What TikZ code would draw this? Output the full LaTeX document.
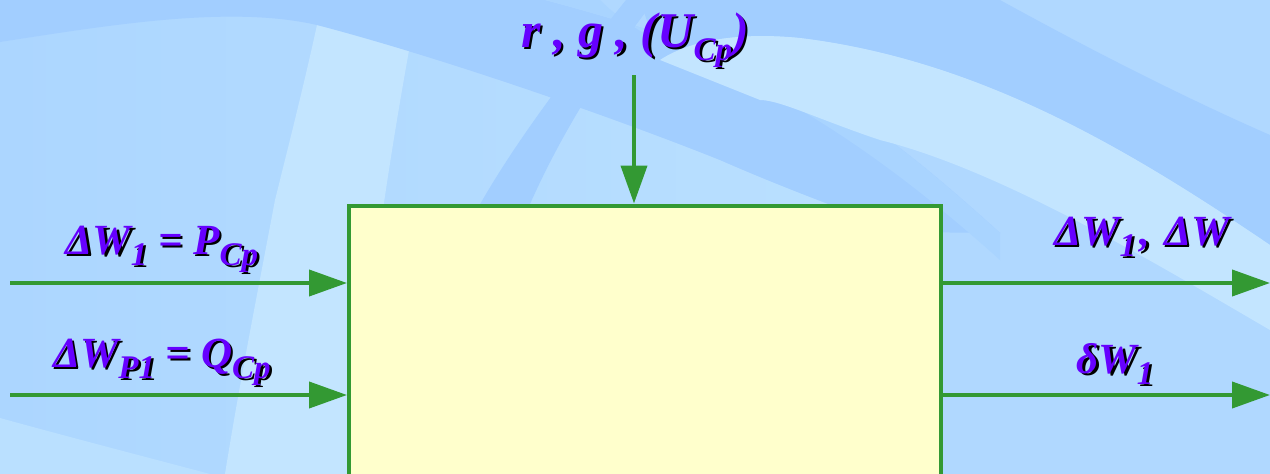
\documentclass[tikz,border=0pt]{standalone}
\usepackage{fontspec}
\setmainfont{Liberation Serif}
\usetikzlibrary{arrows.meta,calc}
\definecolor{bgbase}{HTML}{B0D8FF}
\definecolor{bgdark}{HTML}{A2CEFF}
\definecolor{bgmid}{HTML}{A9D4FF}
\definecolor{bglight}{HTML}{C3E5FF}
\definecolor{bglight2}{HTML}{BAE0FF}
\definecolor{bgleft}{HTML}{ACD6FF}
\definecolor{arrowc}{HTML}{339933}
\definecolor{boxfill}{HTML}{FFFFCC}
\definecolor{labelc}{HTML}{6600FF}
\newcommand\mysub[1]{\raisebox{-0.26em}{\fontsize{33}{33}\selectfont #1}}
\begin{document}
\begin{tikzpicture}[x=1pt,y=-1pt,
  lbl/.style={font=\fontsize{43}{43}\selectfont\bfseries\itshape, text=labelc, inner sep=0pt, anchor=base},
  lbltop/.style={lbl, font=\fontsize{50}{50}\selectfont\bfseries\itshape},
  shad/.style={text=black, xshift=2.5pt, yshift=-2.5pt},
  arr/.style={draw=arrowc, line width=4pt, -{Triangle[length=38pt,width=26pt]}},
  blockbox/.style={draw=arrowc, fill=boxfill, line width=4pt, inner sep=0pt, anchor=north west}
]
\useasboundingbox (0,0) rectangle (1270,474);
\clip (0,0) rectangle (1270,474);
% ---------- background swirls ----------
\fill[bgbase] (0,0) rectangle (1270,474);
\shade[left color=bgleft, right color=bglight2] (0,42) .. controls (110,25) and (230,5) .. (317,25) .. controls (450,60) and (620,120) .. (720,160) .. controls (800,195) and (860,215) .. (900,232) -- (900,474) -- (0,474) -- cycle;
\fill[bglight] (317,25) .. controls (370,35) and (390,40) .. (410,45) .. controls (400,100) and (390,160) .. (380,230) -- (360,474) -- (225,474) .. controls (240,380) and (260,280) .. (275,200) .. controls (290,140) and (305,80) .. (317,25) -- cycle;
\fill[bgdark] (0,0) -- (0,42) .. controls (110,25) and (230,5) .. (317,25) .. controls (450,60) and (620,120) .. (720,160) .. controls (800,195) and (860,215) .. (900,232) -- (1000,233) .. controls (930,170) and (860,110) .. (783,77) .. controls (700,45) and (620,20) .. (545,0) -- cycle;
\fill[bgmid] (545,0) .. controls (620,20) and (700,45) .. (783,77) .. controls (860,110) and (930,170) .. (1000,233) -- (1000,260) .. controls (900,170) and (800,100) .. (700,60) .. controls (650,40) and (620,20) .. (600,0) -- cycle;
\fill[bgdark] (640,0) -- (1000,0) .. controls (1100,55) and (1190,100) .. (1270,135) -- (1270,245) .. controls (1130,150) and (980,60) .. (800,38) .. controls (740,32) and (690,40) .. (660,60) -- cycle;
\fill[bglight] (660,60) .. controls (690,40) and (740,32) .. (800,38) .. controls (980,60) and (1130,150) .. (1270,245) -- (1270,330) .. controls (1150,260) and (1000,170) .. (880,140) .. controls (820,120) and (780,100) .. (760,100) -- cycle;
\fill[bgdark] (461,240) .. controls (500,160) and (570,70) .. (626,0) -- (655,0) .. controls (600,70) and (550,150) .. (515,240) -- cycle;
\fill[bglight2] (0,418) .. controls (80,440) and (150,458) .. (210,474) -- (0,474) -- cycle;
% ---------- block ----------
\node[blockbox, minimum width=592pt, minimum height=320pt] (block) at (347,203.5) {};
% ---------- connector ends ----------
\coordinate (topS) at (634,75);
\coordinate (inA) at (10,283);
\coordinate (inB) at (10,395);
\coordinate (outA) at (1270,283);
\coordinate (outB) at (1270,395);
\draw[arr] (topS) -- (topS |- block.north);
\draw[arr] (inA) -- (inA -| block.west);
\draw[arr] (inB) -- (inB -| block.west);
\draw[arr] (inA -| block.east) -- (outA);
\draw[arr] (inB -| block.east) -- (outB);
% ---------- labels (shadow first) ----------
\node[lbltop, shad] (ltops) at (635,47) {r , g , (U\mysub{Cp})};
\node[lbltop] (ltop) at (635,47) {r , g , (U\mysub{Cp})};
\node[lbl, shad] (lins) at (162,254) {ΔW\mysub{1} = P\mysub{Cp}};
\node[lbl] (lin) at (162,254) {ΔW\mysub{1} = P\mysub{Cp}};
\node[lbl, shad] (linbs) at (162,367) {ΔW\mysub{P1} = Q\mysub{Cp}};
\node[lbl] (linb) at (162,367) {ΔW\mysub{P1} = Q\mysub{Cp}};
\node[lbl, shad] (louts) at (1142,245) {ΔW\mysub{1}\hspace{0.08em},\hspace{0.08em} ΔW};
\node[lbl] (lout) at (1142,245) {ΔW\mysub{1}\hspace{0.08em},\hspace{0.08em} ΔW};
\node[lbl, shad] (loutbs) at (1115,373) {δW\mysub{1}};
\node[lbl] (loutb) at (1115,373) {δW\mysub{1}};
\end{tikzpicture}
\end{document}
